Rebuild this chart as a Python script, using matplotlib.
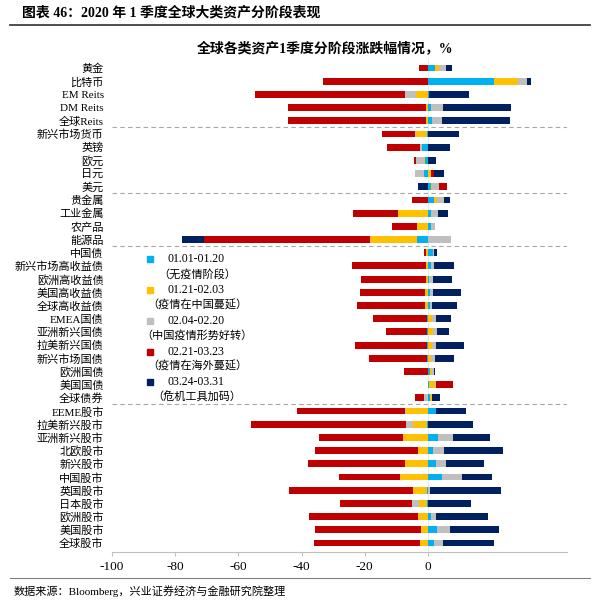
import numpy as np
import matplotlib
matplotlib.use("Agg")
import matplotlib.pyplot as plt
from matplotlib.lines import Line2D

plt.rcParams['font.family'] = ['Liberation Serif', 'Noto Sans CJK SC']
plt.rcParams['axes.unicode_minus'] = False

# ── data ────────────────────────────────────────────────────────────────
categories = ['黄金', '比特币', 'EM Reits', 'DM Reits', '全球Reits',
              '新兴市场货币', '英镑', '欧元', '日元', '美元',
              '贵金属', '工业金属', '农产品', '能源品',
              '中国债', '新兴市场高收益债', '欧洲高收益债', '美国高收益债', '全球高收益债',
              'EMEA国债', '亚洲新兴国债', '拉美新兴国债', '新兴市场国债', '欧洲国债',
              '美国国债', '全球债券',
              'EEME股市', '拉美新兴股市', '亚洲新兴股市', '北欧股市', '新兴股市', '中国股市',
              '英国股市', '日本股市', '欧洲股市', '美国股市', '全球股市']

# 01.01-01.20
p1 = [2.3, 21.0, 0.3, 1.0, 1.2,
      -0.4, -1.8, -1.0, -1.4, 0.9,
      2.0, 0.8, 0.8, -3.6,
      1.5, 1.1, 0.4, 0.6, 0.6, -0.3, -0.3, -0.3, -0.3, 0.5, 0.3, 0.6,
      2.6, -0.3, 3.3, 1.5, 2.6, 4.4, -0.2, -0.3, 0.8, 2.8, 2.0]
# 01.21-02.03
p2 = [1.2, 7.5, -3.7, -0.6, -0.6,
      -3.3, -0.2, -0.2, 1.1, 0.4,
      0.8, -9.5, -3.4, -14.6,
      -0.7, -0.6, -0.6, -0.8, -0.8, 1.3, 1.5, 1.2, 1.1, 0.8, 1.9, 0.8,
      -7.0, -4.4, -7.9, -3.1, -7.4, -8.8, -4.4, -2.4, -3.2, -2.2, -2.6]
# 02.04-02.20
p3 = [2.2, 2.8, -3.5, 3.7, 3.3,
      -0.3, -0.6, -2.6, -2.6, 2.1,
      2.4, 2.3, 1.3, 7.2,
      0.3, 0.9, 1.2, 1.0, 0.6, 1.1, 1.3, 1.3, 1.1, 0.5, 0.3, -1.3,
      -0.3, -2.2, 4.5, 3.7, 3.1, 6.5, 0.5, -2.4, 1.8, 4.2, 2.8]
# 02.21-03.23
p4 = [-2.8, -33.3, -47.6, -43.6, -43.8,
      -10.6, -10.4, -0.5, 0.7, 2.7,
      -5.2, -14.3, -8.0, -52.8,
      -0.5, -23.5, -20.6, -20.6, -21.6, -17.1, -12.9, -22.9, -18.3, -7.7, 5.3, -2.9,
      -34.0, -49.0, -26.6, -32.6, -30.7, -19.4, -39.5, -22.9, -34.6, -33.7, -33.5]
# 03.24-03.31
p5 = [1.8, 1.2, 12.6, 21.6, 21.5,
      9.8, 7.1, 2.6, 3.3, -3.1,
      1.9, 3.2, 0.0, -6.9,
      1.2, 6.1, 6.0, 8.7, 7.9, 4.9, 4.0, 9.0, 5.9, 0.4, 0.0, 2.5,
      9.4, 14.2, 11.9, 18.7, 12.1, 9.5, 22.7, 13.6, 16.4, 15.6, 16.0]

periods = ['01.01-01.20', '01.21-02.03', '02.04-02.20', '02.21-03.23', '03.24-03.31']
notes = ['（无疫情阶段）', '（疫情在中国蔓延）', '（中国疫情形势好转）',
         '（疫情在海外蔓延）', '（危机工具加码）']
colors = ['#00B0F0', '#FFC000', '#BFBFBF', '#C00000', '#002060']
group_sizes = [5, 5, 4, 12, 11]
xticks = [-100, -80, -60, -40, -20, 0]

# ── plot ────────────────────────────────────────────────────────────────
W, H = 600, 606
fig = plt.figure(figsize=(W / 100, H / 100), dpi=100)
ax = fig.add_axes([112 / W, 1 - 551.6 / H, (567 - 112) / W, (551.6 - 59.4) / H])

y = np.arange(len(categories))
pos_left = np.zeros(len(categories))
neg_left = np.zeros(len(categories))
for series, col in zip([p1, p2, p3, p4, p5], colors):
    s = np.array(series)
    left = np.where(s >= 0, pos_left, neg_left)
    ax.barh(y, s, left=left, height=0.52, color=col, linewidth=0)
    pos_left += np.where(s > 0, s, 0)
    neg_left += np.where(s < 0, s, 0)

# group separators
for b in np.cumsum(group_sizes)[:-1]:
    ax.axhline(b - 0.5, color='#A6A6A6', lw=0.8, ls=(0, (4, 3)))
ax.axvline(0, color='#DCE8F0', lw=0.6, zorder=0)

ax.set_xlim(-100, 44)
ax.set_ylim(len(categories) - 0.35, -0.65)
ax.set_yticks(y)
ax.set_yticklabels(categories, fontsize=8)
ax.set_xticks(xticks)
ax.set_xticklabels([str(t) for t in xticks], fontsize=9.5)
ax.tick_params(axis='y', length=0, pad=6)
ax.tick_params(axis='x', length=3, width=0.8, color='#BFBFBF', pad=4)
for side in ['left', 'right', 'top']:
    ax.spines[side].set_visible(False)
ax.spines['bottom'].set_color('#BFBFBF')
ax.spines['bottom'].set_linewidth(0.8)

# legend (hand-placed, two lines per entry)
for k, (per, note, col) in enumerate(zip(periods, notes, colors)):
    y0 = 259.5 + 30.7 * k
    fig.add_artist(Line2D([150 / W], [1 - y0 / H], marker='s', ms=4.5,
                          color=col, lw=0))
    fig.text(196 / W, 1 - y0 / H, per, fontsize=8.5, ha='center', va='center')
    fig.text(197 / W, 1 - (y0 + 14.6) / H, note, fontsize=8, ha='center',
             va='center')

# header / footer
fig.text(22 / W, 1 - 13 / H, '图表 46：2020 年 1 季度全球大类资产分阶段表现',
         fontsize=10, fontweight='bold', va='center', ha='left')
fig.add_artist(Line2D([10 / W, 590 / W], [1 - 25 / H] * 2, color='#404040', lw=1.3))
fig.text(325 / W, 1 - 48 / H, '全球各类资产1季度分阶段涨跌幅情况，%',
         fontsize=10, fontweight='bold', va='center', ha='center')
fig.add_artist(Line2D([10 / W, 590 / W], [1 - 578 / H] * 2, color='#808080', lw=0.8))
fig.text(14 / W, 1 - 591 / H, '数据来源：Bloomberg，兴业证券经济与金融研究院整理',
         fontsize=8, va='center', ha='left')

fig.savefig('out.png', dpi=100)
